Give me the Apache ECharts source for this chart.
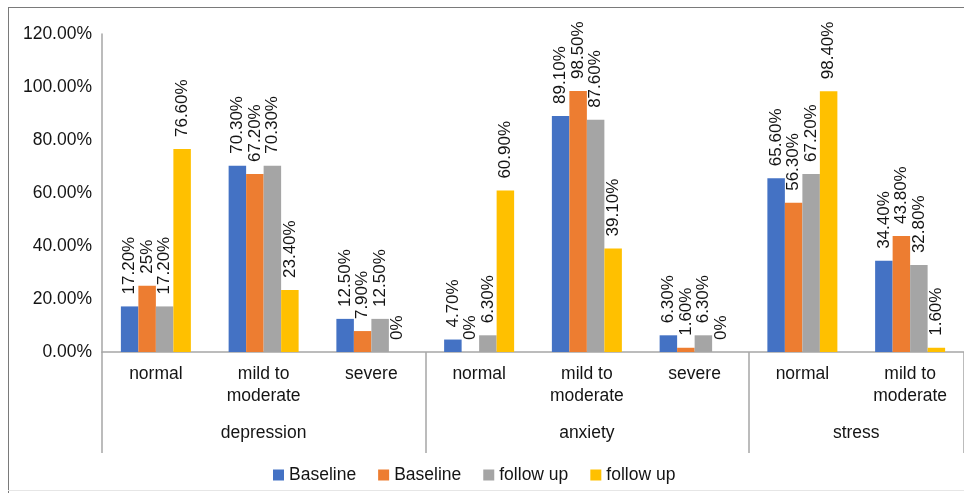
<!DOCTYPE html>
<html>
<head>
<meta charset="utf-8">
<script src="https://cdn.jsdelivr.net/npm/echarts@6/dist/echarts.min.js"></script>
<style>
  html, body { margin: 0; padding: 0; background: #fff; }
  #chart { width: 964px; height: 493px; }
</style>
</head>
<body>
<div id="chart"></div>
<script>
// Severity levels (inner axis) and their scales (outer axis)
const categories = ['normal', 'mild to\nmoderate', 'severe', 'normal', 'mild to\nmoderate', 'severe', 'normal', 'mild to\nmoderate'];
const groups = ['depression', 'anxiety', 'stress'];
const groupCenters = [1.5, 4.5, 7];
const groupBounds = [0, 3, 6, 8];

// Percentages per series
const baselineA = [17.2, 70.3, 12.5, 4.7, 89.1, 6.3, 65.6, 34.4];
const baselineB = [25, 67.2, 7.9, 0, 98.5, 1.6, 56.3, 43.8];
const followUpA = [17.2, 70.3, 12.5, 6.3, 87.6, 6.3, 67.2, 32.8];
const followUpB = [76.6, 23.4, 0, 60.9, 39.1, 0, 98.4, 1.6];

const seriesKeys = ['Baseline 1', 'Baseline 2', 'follow up 1', 'follow up 2'];
const seriesData = [baselineA, baselineB, followUpA, followUpB];
const colors = ['#4472C4', '#ED7D31', '#A5A5A5', '#FFC000'];

const yTicks = [0, 20, 40, 60, 80, 100, 120];

const FONT = 'Liberation Sans, Arial, sans-serif';
const TEXT = '#141414';
const AXIS = '#A6A6A6';
const FS = 17.5;

const fmtPct = v => (Number.isInteger(v) ? v + '%' : v.toFixed(2) + '%');

const chart = echarts.init(document.getElementById('chart'), null, { renderer: 'canvas' });

chart.setOption({
  animation: false,
  backgroundColor: '#fff',
  textStyle: { fontFamily: FONT },
  color: colors,
  grid: { left: 102, top: 34, width: 863, height: 318, containLabel: false },
  legend: {
    data: seriesKeys,
    left: 268,
    top: 461,
    itemWidth: 11,
    itemHeight: 11,
    itemGap: 22,
    icon: 'rect',
    formatter: name => name.replace(/ \d$/, ''),
    textStyle: { fontFamily: FONT, fontSize: FS, color: TEXT }
  },
  xAxis: [
    {
      type: 'category',
      data: categories,
      position: 'bottom',
      axisLine: { show: true, lineStyle: { color: AXIS, width: 1.5 } },
      axisTick: { show: false },
      axisLabel: {
        interval: 0,
        margin: 11,
        fontSize: FS,
        lineHeight: 22,
        color: TEXT,
        fontFamily: FONT
      }
    },
    {
      type: 'value',
      min: 0,
      max: 8,
      position: 'bottom',
      offset: 0,
      axisLine: { show: false },
      splitLine: { show: false },
      axisTick: {
        show: true,
        customValues: groupBounds,
        length: 101,
        lineStyle: { color: AXIS, width: 1.5 }
      },
      axisLabel: {
        customValues: groupCenters,
        margin: 72,
        fontSize: FS,
        color: TEXT,
        fontFamily: FONT,
        formatter: v => groups[groupCenters.indexOf(v)] || ''
      }
    }
  ],
  yAxis: {
    type: 'value',
    min: 0,
    max: 120,
    interval: 20,
    axisLine: { show: true, lineStyle: { color: AXIS, width: 1.5 } },
    axisTick: { show: false },
    splitLine: { show: false },
    axisLabel: {
      margin: 10,
      fontSize: FS,
      color: TEXT,
      fontFamily: FONT,
      formatter: v => v.toFixed(2) + '%'
    }
  },
  series: seriesKeys.map((name, i) => ({
    name,
    type: 'bar',
    xAxisIndex: 0,
    data: seriesData[i],
    barWidth: 17.5,
    barGap: '0%',
    itemStyle: { color: colors[i] },
    label: {
      show: true,
      position: 'top',
      rotate: 90,
      align: 'left',
      verticalAlign: 'middle',
      distance: 12,
      fontSize: 17,
      color: TEXT,
      fontFamily: FONT,
      formatter: p => fmtPct(p.value)
    }
  })),
  graphic: [
    { type: 'line', shape: { x1: 8, y1: 7.5, x2: 964, y2: 7.5 }, style: { stroke: '#7a7a7a', lineWidth: 1 } },
    { type: 'line', shape: { x1: 8.5, y1: 7, x2: 8.5, y2: 493 }, style: { stroke: '#7a7a7a', lineWidth: 1 } },
    { type: 'line', shape: { x1: 8, y1: 490.5, x2: 964, y2: 490.5 }, style: { stroke: '#e6e6e6', lineWidth: 1 } }
  ]
});
</script>
</body>
</html>
